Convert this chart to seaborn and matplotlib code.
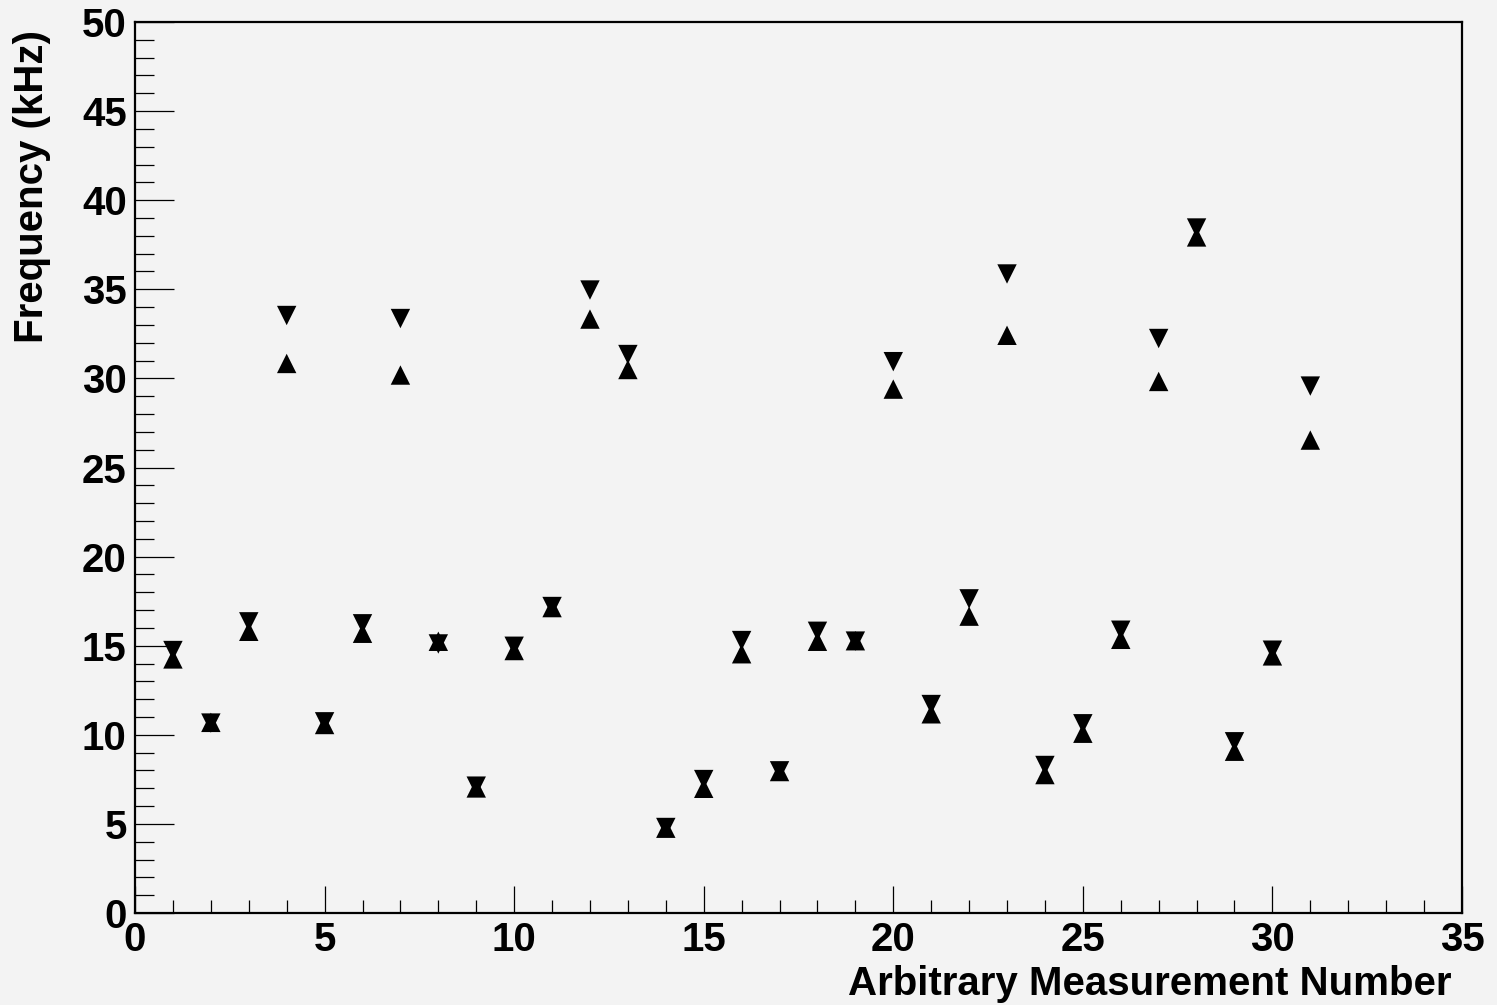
import pandas as pd
import seaborn as sns
import matplotlib.pyplot as plt
from matplotlib.ticker import MultipleLocator

# --- data ---
measurement = list(range(1, 32))
# upper frequency (drawn as down-pointing triangle)
freq_high = [14.73, 10.66, 16.34, 33.53, 10.73, 16.23, 33.36, 15.10, 7.12, 14.97,
             17.20, 34.96, 31.34, 4.80, 7.49, 15.29, 7.98, 15.81, 15.26, 30.94,
             11.70, 17.63, 35.86, 8.28, 10.62, 15.87, 32.24, 38.44, 9.61, 14.75,
             29.57]
# lower frequency (drawn as up-pointing triangle)
freq_low = [14.26, 10.70, 15.81, 30.84, 10.58, 15.70, 30.19, 15.25, 7.02, 14.73,
            17.14, 33.33, 30.50, 4.76, 7.00, 14.55, 7.94, 15.25, 15.28, 29.40,
            11.18, 16.66, 32.42, 7.77, 10.09, 15.36, 29.83, 37.94, 9.08, 14.43,
            26.54]

df = pd.DataFrame({
    "n": measurement * 2,
    "freq": freq_high + freq_low,
    "bound": ["high"] * len(freq_high) + ["low"] * len(freq_low),
})

BG = "#f3f3f3"
sns.set_theme(style="ticks")
plt.rcParams["font.family"] = ["Liberation Sans", "DejaVu Sans"]
plt.rcParams["font.weight"] = "bold"
plt.rcParams["text.color"] = "black"
plt.rcParams["axes.labelcolor"] = "black"

fig = plt.figure(figsize=(14.97, 10.05), dpi=100, facecolor=BG)
ax = fig.add_axes([0.0902, 0.0915, 0.8864, 0.8866])
ax.set_facecolor(BG)

sns.scatterplot(data=df, x="n", y="freq", style="bound",
                markers={"high": "v", "low": "^"}, color="black",
                s=195, linewidth=0, legend=False, ax=ax)

ax.set_xlim(0, 35)
ax.set_ylim(0, 50)
ax.xaxis.set_major_locator(MultipleLocator(5))
ax.xaxis.set_minor_locator(MultipleLocator(1))
ax.yaxis.set_major_locator(MultipleLocator(5))
ax.yaxis.set_minor_locator(MultipleLocator(1))

# ROOT-like ticks: inside, left and bottom only
ax.tick_params(axis="y", which="major", direction="in", length=28, width=0.9,
               labelsize=29, pad=6, colors="black")
ax.tick_params(axis="y", which="minor", direction="in", length=14, width=0.9,
               colors="black")
ax.tick_params(axis="x", which="major", direction="in", length=19.5, width=0.9,
               labelsize=29, pad=6, colors="black")
ax.tick_params(axis="x", which="minor", direction="in", length=9.5, width=0.9,
               colors="black")
for lab in ax.get_xticklabels() + ax.get_yticklabels():
    lab.set_fontweight("bold")
    lab.set_color("black")

for side in ["left", "bottom", "right", "top"]:
    ax.spines[side].set_visible(True)
    ax.spines[side].set_color("black")
    ax.spines[side].set_linewidth(1.6)

ax.set_xlabel("")
ax.set_ylabel("")
ax.text(0.992, -0.092, "Arbitrary Measurement Number", transform=ax.transAxes,
        ha="right", va="baseline", fontsize=29, fontweight="bold", color="black")
ax.text(-0.078, 0.991, "Frequency (kHz)", transform=ax.transAxes, rotation=90,
        ha="center", va="top", fontsize=29, fontweight="bold", color="black")

fig.savefig("out.png", dpi=100, facecolor=BG)
